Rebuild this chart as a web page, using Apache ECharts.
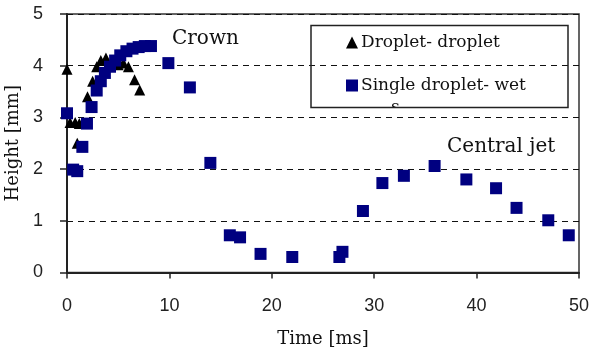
<!DOCTYPE html>
<html><head><meta charset="utf-8">
<script src="https://cdn.jsdelivr.net/npm/echarts@6/dist/echarts.min.js"></script>
<style>html,body{margin:0;padding:0;background:#fff}#c{width:603px;height:348px}</style>
</head><body><div id="c"></div>
<script>
const seriesNames = ['Droplet- droplet', 'Single droplet- wet'];
const dropletDroplet = [
  [0,3.93],[0.3,2.9],[0.8,2.9],[1.2,2.88],[1.0,2.5],[2.0,3.4],[2.5,3.7],[2.9,3.98],
  [3.3,4.1],[3.8,4.15],[4.4,4.1],[5.0,4.02],[5.5,4.05],[6.0,3.98],[6.6,3.73],[7.1,3.53]
];
const singleDropletWet = [
  [0,3.08],[0.6,1.99],[1.0,1.96],[1.5,2.43],[1.95,2.88],[2.4,3.2],[2.9,3.52],[3.3,3.7],
  [3.7,3.86],[4.2,3.98],[4.7,4.1],[5.2,4.2],[5.8,4.28],[6.4,4.33],[7.0,4.36],[7.6,4.38],
  [8.2,4.38],[9.9,4.05],[12.0,3.58],[14.0,2.12],[15.9,0.72],[16.9,0.68],[18.9,0.36],
  [22.0,0.3],[26.6,0.3],[26.9,0.4],[28.9,1.19],[30.8,1.73],[32.9,1.87],[35.9,2.06],
  [39.0,1.8],[41.9,1.63],[43.9,1.25],[47.0,1.01],[49.0,0.72]
];
const xTicks = [0,10,20,30,40,50];
const yTicks = [0,1,2,3,4,5];
const annotations = [{text:'Crown', x:172, y:29}, {text:'Central jet', x:447, y:137}];

const serif = '"DejaVu Serif", "Liberation Serif", serif';
const sans = '"Liberation Sans", Arial, sans-serif';
const chart = echarts.init(document.getElementById('c'));
chart.setOption({
  animation: false,
  grid: {left: 67, right: 24, top: 14, bottom: 75.5, containLabel: false, outerBoundsMode: 'none',
         show: true, borderColor: '#333', borderWidth: 1.5, backgroundColor: 'transparent'},
  xAxis: {
    type: 'value', min: xTicks[0], max: xTicks[xTicks.length-1], interval: 10,
    name: 'Time [ms]', nameLocation: 'middle', nameGap: 58,
    nameTextStyle: {fontFamily: serif, fontSize: 18, color: '#111'},
    axisLine: {lineStyle: {color: '#222', width: 2}},
    axisTick: {show: true, length: 6, lineStyle: {color: '#222', width: 1.5}},
    axisLabel: {fontFamily: sans, fontSize: 18, color: '#222', margin: 25},
    splitLine: {show: false}
  },
  yAxis: {
    type: 'value', min: yTicks[0], max: yTicks[yTicks.length-1], interval: 1,
    name: 'Height [mm]', nameLocation: 'middle', nameGap: 33, nameRotate: 90,
    nameTextStyle: {fontFamily: serif, fontSize: 18, color: '#111'},
    axisLine: {lineStyle: {color: '#222', width: 2}},
    axisTick: {show: true, length: 7, lineStyle: {color: '#222', width: 1.5}},
    axisLabel: {fontFamily: sans, fontSize: 18, color: '#222', margin: 24},
    splitLine: {show: true, lineStyle: {color: '#111', width: 1.2, type: [6,5]}}
  },
  legend: {
    orient: 'vertical', left: 341, top: 29, itemGap: 26, itemWidth: 12, itemHeight: 12,
    textStyle: {fontFamily: serif, fontSize: 17, color: '#111', padding: [0,0,0,-2]},
    data: [
      {name: seriesNames[0], icon: 'triangle', itemStyle: {color: '#000', opacity: 1}},
      {name: seriesNames[1], icon: 'rect', itemStyle: {color: '#000080', opacity: 1}}
    ]
  },
  graphic: [
    {type: 'text', left: 391, top: 99, style: {text: 's', font: '17px ' + serif, fill: '#111'}, z: 9},
    {type: 'rect', shape: {x: 385, y: 108, width: 20, height: 7}, style: {fill: '#fff'}, z: 9.5},
    {type: 'rect', shape: {x: 311, y: 25.5, width: 257, height: 82}, style: {fill: 'none', stroke: '#222', lineWidth: 1.5}, z: 10},
    ...annotations.map(a => ({type: 'text', left: a.x, top: a.y, style: {text: a.text, font: '20px ' + serif, fill: '#111'}, z: 10}))
  ],
  series: [
    {name: seriesNames[0], type: 'scatter', data: dropletDroplet, symbol: 'triangle', symbolSize: 11,
     itemStyle: {color: '#000', opacity: 1}, z: 2},
    {name: seriesNames[1], type: 'scatter', data: singleDropletWet, symbol: 'rect', symbolSize: 12,
     itemStyle: {color: '#000080', opacity: 1}, z: 3}
  ]
});
</script></body></html>
